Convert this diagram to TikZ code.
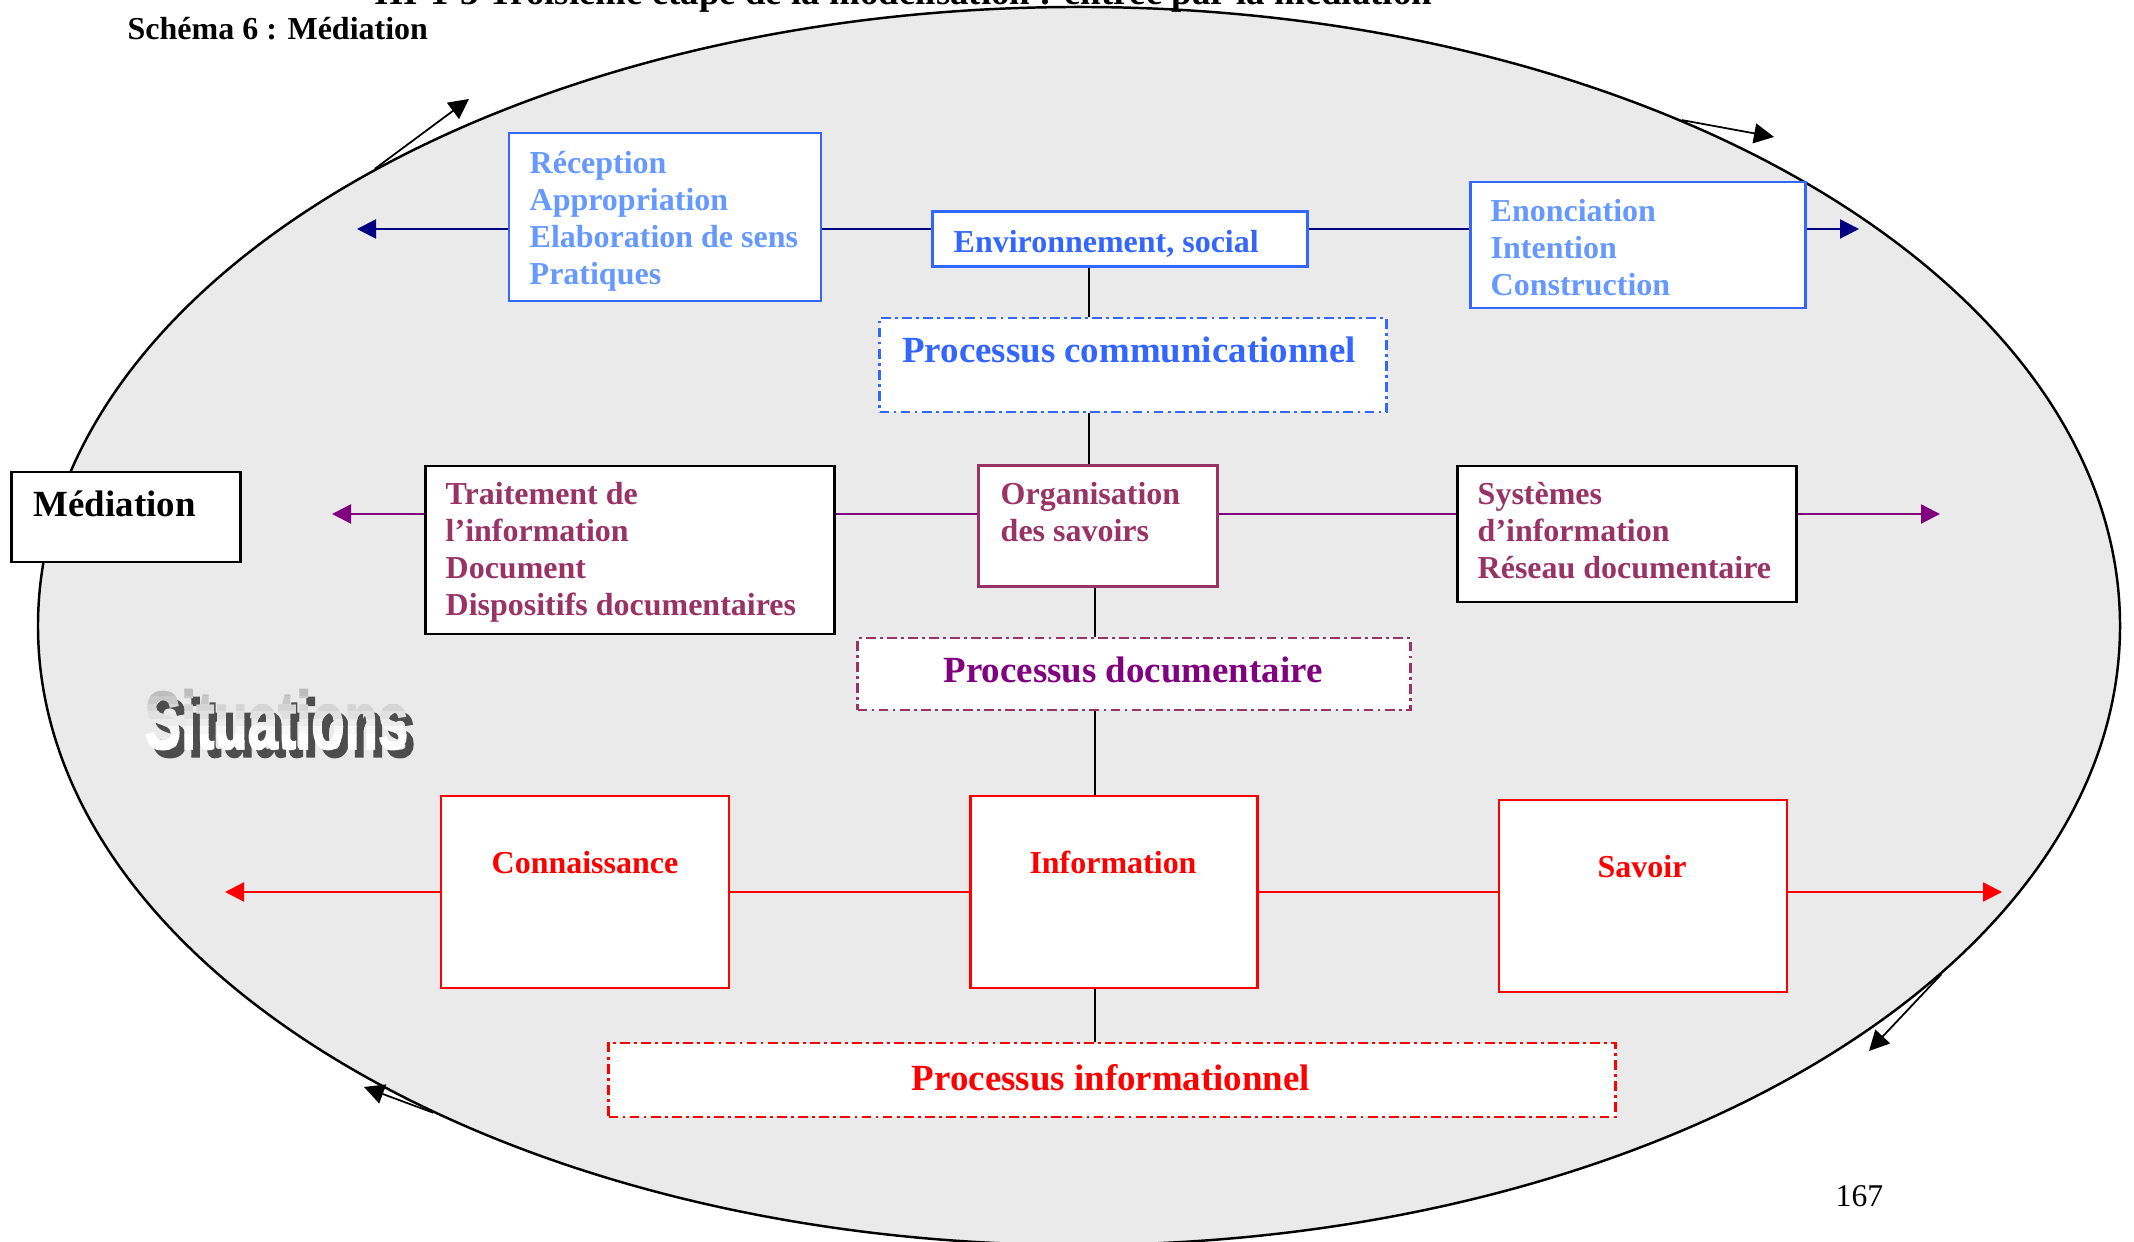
\documentclass[tikz,border=0pt]{standalone}
\usepackage{fontspec}
\setmainfont{Liberation Serif}
\newfontfamily\wordart[FakeStretch=0.66,FakeBold=1.5]{Liberation Sans}
\usetikzlibrary{arrows.meta,shapes.geometric}
\definecolor{fond}{RGB}{234, 234, 234}
\definecolor{marine}{RGB}{0, 0, 128}
\definecolor{bleu}{RGB}{51, 102, 255}
\definecolor{bleuclair}{RGB}{102, 153, 255}
\definecolor{prune}{RGB}{153, 51, 102}
\definecolor{pourpre}{RGB}{128, 0, 128}
\definecolor{rouge}{RGB}{255, 0, 0}
\definecolor{ombre}{RGB}{77, 77, 77}
\tikzset{
    cadre/.style={draw, fill=white, line width=0.65pt, inner sep=0pt},
    processus/.style={cadre, dash pattern=on 2.8pt off 1.2pt on 0.8pt off 1.2pt},
    texte/.style={anchor=base west, align=left, inner sep=0pt, font=\bfseries\fontsize{9.1}{10.53}\selectfont},
    grand/.style={anchor=base, inner sep=0pt, font=\bfseries\fontsize{10.5}{12.6}\selectfont},
    situ/.style={anchor=base west, inner sep=0pt, font=\wordart\bfseries\fontsize{23.5}{28}\selectfont},
    lien/.style={line width=0.6pt},
    fleche/.style={lien, -{Triangle[length=0.19cm,width=0.19cm]}},
    tour/.style={line width=0.5pt, -{Triangle[length=0.20cm,width=0.20cm]}},
    tige/.style={line width=0.5pt}
}
\begin{document}
\begin{tikzpicture}
            \useasboundingbox (0,0) rectangle (21.34,12.42);
            \node[ellipse, draw, fill=fond, line width=0.7pt, minimum width=20.82cm, minimum height=12.38cm, inner sep=0pt] (milieu) at (10.79,6.16) {};
            \node[grand, anchor=base west] (chapitre) at ( 3.74,12.37) {III-1-3 Troisième étape de la modélisation : entrée par la médiation};
            \node[texte]                   (schema)   at ( 1.27,12.02) {Schéma 6 : Médiation};
            \coordinate (t1) at ( 4.69,11.43);
            \coordinate (t2) at (17.74,11.05);
            \coordinate (t3) at (18.69, 1.91);
            \coordinate (t4) at ( 3.64, 1.55);
            \draw[tour] (milieu.147) -- (t1);
            \draw[tour] (milieu.40)  -- (t2);
            \draw[tour] (milieu.-22) -- (t3);
            \draw[tour] (milieu.217) -- (t4);
            \node[situ, text=ombre] (situOmbre) at (1.51,4.85) {Situations};
            \foreach \k in {0,...,9}{
                \pgfmathsetmacro\teinte{max(0,30-4.5*\k)}
                \begin{scope}
                    \clip (1.2,{5.60-\k*0.075}) rectangle (4.4,{5.60-(\k+1)*0.075});
                    \node[situ, text=black!\teinte] (situ\k) at (1.44,4.93) {Situations};
                \end{scope}
            }
            \coordinate (bl) at (0,10.13);
            \coordinate (pl) at (0, 7.28);
            \coordinate (rl) at (0, 3.50);
            \coordinate (va) at (10.89,0);
            \coordinate (vb) at (10.95,0);
            \coordinate (bg) at ( 3.57,10.13);
            \coordinate (bd) at (18.59,10.13);
            \coordinate (pg) at ( 3.32, 7.28);
            \coordinate (pd) at (19.40, 7.28);
            \coordinate (rg) at ( 2.25, 3.50);
            \coordinate (rd) at (20.02, 3.50);
            \node[cadre, draw=bleu, minimum width=3.12cm, minimum height=1.68cm]                   (recep)    at ( 6.65,10.25) {};
            \node[cadre, draw=bleu, minimum width=3.75cm, minimum height=0.55cm]                   (env)      at (11.20,10.03) {};
            \node[cadre, draw=bleu, minimum width=3.35cm, minimum height=1.26cm]                   (enon)     at (16.38, 9.97) {};
            \node[processus, draw=bleu, minimum width=5.07cm, minimum height=0.94cm]               (comm)     at (11.33, 8.77) {};
            \node[cadre, line width=0.75pt, minimum width=2.29cm, minimum height=0.90cm]           (mediation) at ( 1.26, 7.25) {};
            \node[cadre, line width=0.75pt, minimum width=4.09cm, minimum height=1.68cm]           (trait)    at ( 6.30, 6.92) {};
            \node[cadre, draw=prune, minimum width=2.39cm, minimum height=1.21cm]                  (orga)     at (10.98, 7.16) {};
            \node[cadre, line width=0.75pt, minimum width=3.39cm, minimum height=1.36cm]           (syst)     at (16.27, 7.08) {};
            \node[processus, draw=prune, minimum width=5.53cm, minimum height=0.72cm]              (doc)      at (11.34, 5.68) {};
            \node[cadre, draw=rouge, minimum width=2.88cm, minimum height=1.92cm]                  (conn)     at ( 5.85, 3.50) {};
            \node[cadre, draw=rouge, minimum width=2.87cm, minimum height=1.92cm]                  (info)     at (11.14, 3.50) {};
            \node[cadre, draw=rouge, minimum width=2.88cm, minimum height=1.92cm]                  (savoir)   at (16.43, 3.46) {};
            \node[processus, draw=rouge, minimum width=10.07cm, minimum height=0.74cm]             (infoproc) at (11.12, 1.62) {};
            \draw[fleche, marine]  (recep.west |- bl) -- (bg);
            \draw[lien, marine]    (recep.east |- bl) -- (env.west |- bl);
            \draw[lien, marine]    (env.east |- bl)   -- (enon.west |- bl);
            \draw[fleche, marine]  (enon.east |- bl)  -- (bd);
            \draw[fleche, pourpre] (trait.west |- pl) -- (pg);
            \draw[lien, pourpre]   (trait.east |- pl) -- (orga.west |- pl);
            \draw[lien, pourpre]   (orga.east |- pl)  -- (syst.west |- pl);
            \draw[fleche, pourpre] (syst.east |- pl)  -- (pd);
            \draw[fleche, rouge]   (conn.west |- rl)  -- (rg);
            \draw[lien, rouge]     (conn.east |- rl)  -- (info.west |- rl);
            \draw[lien, rouge]     (info.east |- rl)  -- (savoir.west |- rl);
            \draw[fleche, rouge]   (savoir.east |- rl) -- (rd);
            \draw[tige] (env.south -| va)  -- (comm.north -| va);
            \draw[tige] (comm.south -| va) -- (orga.north -| va);
            \draw[tige] (orga.south -| vb) -- (doc.north -| vb);
            \draw[tige] (doc.south -| vb)  -- (info.north -| vb);
            \draw[tige] (info.south -| vb) -- (infoproc.north -| vb);
            \node[texte, text=bleuclair] (recepT) at ( 5.29, 9.57) {Réception\\Appropriation\\Elaboration de sens\\Pratiques};
            \node[texte, text=bleu]      (envT)   at ( 9.53, 9.89) {Environnement, social};
            \node[texte, text=bleuclair] (enonT)  at (14.90, 9.46) {Enonciation\\Intention\\Construction};
            \node[grand, text=bleu]      (commT)  at (11.29, 8.79) {Processus communicationnel};
            \node[grand, anchor=base west] (mediationT) at (0.33,7.25) {Médiation};
            \node[texte, text=prune]     (traitT) at ( 4.45, 6.26) {Traitement de\\l’information\\Document\\Dispositifs documentaires};
            \node[texte, text=prune]     (orgaT)  at (10.00, 7.00) {Organisation\\des savoirs};
            \node[texte, text=prune]     (systT)  at (14.77, 6.63) {Systèmes\\d’information\\Réseau documentaire};
            \node[grand, text=pourpre]   (docT)   at (11.33, 5.59) {Processus documentaire};
            \node[texte, anchor=base, text=rouge] (connT)   at ( 5.85, 3.68) {Connaissance};
            \node[texte, anchor=base, text=rouge] (infoT)   at (11.13, 3.68) {Information};
            \node[texte, anchor=base, text=rouge] (savoirT) at (16.42, 3.64) {Savoir};
            \node[grand, text=rouge]     (infoprocT) at (11.11, 1.51) {Processus informationnel};
            \node[anchor=base west, inner sep=0pt, font=\fontsize{9}{11}\selectfont] (page) at (18.35,0.35) {167};
\end{tikzpicture}
\end{document}
